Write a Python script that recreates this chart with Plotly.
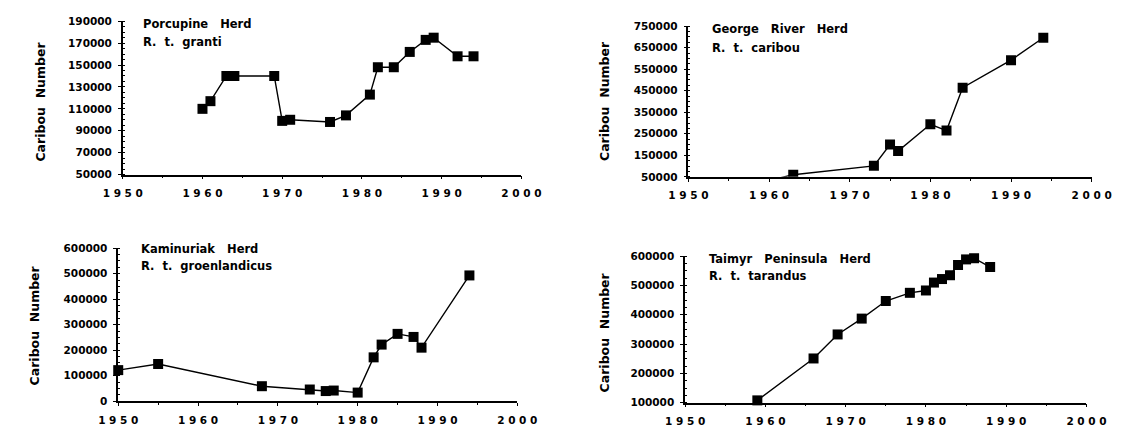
import plotly.graph_objects as go

# Herd census series (year, caribou count)
porcupine_years = [1960, 1961, 1963, 1964, 1969, 1970, 1971, 1976, 1978, 1981, 1982, 1984, 1986, 1988, 1989, 1992, 1994]
porcupine_counts = [110000, 117000, 140000, 140000, 140000, 99000, 100000, 98000, 104000, 123000, 148000, 148000, 162000, 173000, 175000, 158000, 158000]

george_years = [1958, 1963, 1973, 1975, 1976, 1980, 1982, 1984, 1990, 1994]
george_counts = [15000, 60000, 101000, 200000, 170000, 294000, 265000, 464000, 592000, 696000]

kaminuriak_years = [1950, 1955, 1968, 1974, 1976, 1977, 1980, 1982, 1983, 1985, 1987, 1988, 1994]
kaminuriak_counts = [122000, 146000, 59000, 46000, 40000, 42000, 34000, 172000, 222000, 264000, 252000, 210000, 493000]

taimyr_years = [1959, 1966, 1969, 1972, 1975, 1978, 1980, 1981, 1982, 1983, 1984, 1985, 1986, 1988]
taimyr_counts = [108000, 251000, 333000, 387000, 447000, 475000, 483000, 510000, 522000, 535000, 570000, 589000, 593000, 563000]

herd_names = ["Porcupine   Herd", "George   River   Herd", "Kaminuriak   Herd", "Taimyr   Peninsula   Herd"]
subspecies = ["R.  t.  granti", "R.  t.  caribou", "R.  t.  groenlandicus", "R.  t.  tarandus"]

year_ticks = [1950, 1960, 1970, 1980, 1990, 2000]
year_ticktext = [" ".join(str(y)) for y in year_ticks]
y_label = "Caribou  Number"

W, H = 1139, 434
NB = "\u00a0"


def px_x(v):
    return v / W


def px_y(v):
    return 1 - v / H


def keep_spaces(s):
    # runs of spaces would collapse in SVG text, so use non-breaking ones
    return s.replace(" ", NB)


# panel geometry in pixels: (x0, x1, ytop, ybottom)
panels = [
    dict(xs=porcupine_years, ys=porcupine_counts, box=(106.5, 519.6, 15.7, 173.3),
         yr=(50000, 190000), dt=20000, mdt=5000, clip=False,
         title=(125.7, 18.3, 36.7), ylab=(21, 98)),
    dict(xs=george_years, ys=george_counts, box=(692.7, 1110.7, 20.7, 175.7),
         yr=(50000, 750000), dt=100000, mdt=25000, clip=True,
         title=(715.0, 24.0, 42.7), ylab=(606, 98)),
    dict(xs=kaminuriak_years, ys=kaminuriak_counts, box=(101.8, 515.4, 249.0, 406.5),
         yr=(0, 600000), dt=100000, mdt=25000, clip=False,
         title=(123.2, 250.0, 267.7), ylab=(15, 328)),
    dict(xs=taimyr_years, ys=taimyr_counts, box=(689.3, 1105.3, 257.3, 408.0),
         yr=(100000, 600000), dt=100000, mdt=25000, clip=False,
         title=(712.5, 260.0, 277.3), ylab=(606, 336)),
]

fig = go.Figure()
font_fam = "DejaVu Sans"
annotations = []
layout_axes = {}

for i, p in enumerate(panels):
    n = "" if i == 0 else str(i + 1)
    x0, x1, yt, yb = p["box"]
    fig.add_trace(go.Scatter(
        x=p["xs"], y=p["ys"], mode="lines+markers",
        line=dict(color="black", width=1.4),
        marker=dict(symbol="square", size=10, color="black"),
        cliponaxis=p["clip"], showlegend=False,
        xaxis="x" + n, yaxis="y" + n,
    ))
    layout_axes["xaxis" + n] = dict(
        domain=[px_x(x0), px_x(x1)], range=[1950, 2000], anchor="y" + n,
        tickvals=year_ticks, ticktext=year_ticktext,
        ticks="outside", ticklen=3, tickwidth=1.2, tickcolor="black",
        ticklabelstandoff=5,
        minor=dict(dtick=5, tick0=1950, ticks="outside", ticklen=2, tickcolor="black"),
        showline=True, linecolor="black", linewidth=1.5,
        showgrid=False, zeroline=False,
        tickfont=dict(family=font_fam, size=10.5, color="black", weight="bold"),
    )
    layout_axes["yaxis" + n] = dict(
        domain=[px_y(yb), px_y(yt)], range=list(p["yr"]), anchor="x" + n,
        tick0=p["yr"][0], dtick=p["dt"], tickformat="d",
        ticks="outside", ticklen=3, tickwidth=1.2, tickcolor="black",
        ticklabelstandoff=4,
        minor=dict(dtick=p["mdt"], ticks="inside", ticklen=2, tickcolor="black"),
        showline=True, linecolor="black", linewidth=1.5,
        showgrid=False, zeroline=False,
        tickfont=dict(family=font_fam, size=10.5, color="black", weight="bold"),
    )
    tx, ty1, ty2 = p["title"]
    for txt, ty in ((herd_names[i], ty1), (subspecies[i], ty2)):
        annotations.append(dict(
            text=keep_spaces(txt),
            x=px_x(tx), y=px_y(ty), xref="paper", yref="paper",
            xanchor="left", yanchor="middle", showarrow=False,
            font=dict(family=font_fam, size=11.5, color="black", weight="bold"),
        ))
    lx, ly = p["ylab"]
    annotations.append(dict(
        text=keep_spaces(y_label),
        x=px_x(lx), y=px_y(ly), xref="paper", yref="paper",
        xanchor="center", yanchor="middle", textangle=-90, showarrow=False,
        font=dict(family=font_fam, size=12.5, color="black", weight="bold"),
    ))

fig.update_layout(
    width=W, height=H,
    margin=dict(l=0, r=0, t=0, b=0),
    paper_bgcolor="white", plot_bgcolor="white",
    annotations=annotations,
    **layout_axes,
)

fig.write_html("out.html")
